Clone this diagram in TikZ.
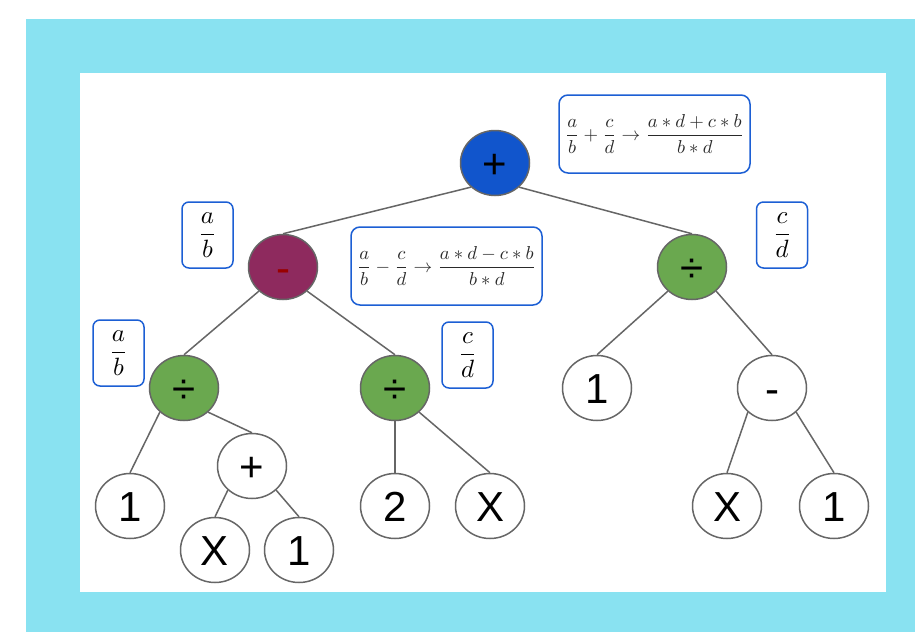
\documentclass[tikz,border=0pt]{standalone}
\usepackage{fontspec}
\setmainfont{Liberation Sans}
\usetikzlibrary{shapes.geometric}
\definecolor{bgcyan}{HTML}{89E2F1}
\definecolor{edgegray}{HTML}{666666}
\definecolor{rootblue}{HTML}{1155CC}
\definecolor{plum}{HTML}{8E2A5E}
\definecolor{darkred}{HTML}{990000}
\definecolor{opgreen}{HTML}{6AA84F}
\definecolor{boxblue}{HTML}{1C5FD4}
\definecolor{formgray}{HTML}{2A2A2A}
\begin{document}
\begin{tikzpicture}[x=1pt,y=-1pt,
  tnode/.style={ellipse, draw=edgegray, line width=1.5pt, minimum width=69pt,
    minimum height=65pt, inner sep=0pt, text height=30pt, text depth=0pt,
    font=\fontsize{42}{48}\selectfont, fill=white},
  rootop/.style={tnode, fill=rootblue},
  subop/.style={tnode, fill=plum, text=darkred},
  divop/.style={tnode, fill=opgreen},
  fracbox/.style={draw=boxblue, line width=1.5pt, rounded corners=7pt, fill=white,
    minimum width=51pt, minimum height=66pt, inner sep=0pt},
  formbox/.style={draw=boxblue, line width=1.5pt, rounded corners=9pt, fill=white,
    minimum width=191pt, minimum height=78pt, inner sep=0pt, text=formgray},
  link/.style={draw=edgegray, line width=1.5pt}]
\path[use as bounding box] (0,0) rectangle (915,632);
\fill[white] (0,0) rectangle (915,632);
\fill[bgcyan] (26,19) rectangle (915,632);
\fill[white] (80,73) rectangle (886,592);

% tree nodes
\node[rootop] (root) at (495,163) {+};
\node[subop] (sub) at (283,267) {-};
\node[divop] (divR) at (692,267) {÷};
\node[divop] (divL) at (184,388) {÷};
\node[divop] (divM) at (395,388) {÷};
\node[tnode] (oneR) at (597,388) {1};
\node[tnode] (minR) at (772,388) {-};
\node[tnode] (oneL) at (130,506) {1};
\node[tnode] (plusS) at (252,466) {+};
\node[tnode] (xS) at (215,550) {X};
\node[tnode] (oneS) at (299,550) {1};
\node[tnode] (two) at (395,506) {2};
\node[tnode] (xM) at (490,506) {X};
\node[tnode] (xR) at (727,506) {X};
\node[tnode] (oneRR) at (834,506) {1};

% connectors
\draw[link] (root.225) -- (sub.north);
\draw[link] (root.315) -- (divR.north);
\draw[link] (sub.225) -- (divL.north);
\draw[link] (sub.315) -- (divM.north);
\draw[link] (divL.225) -- (oneL.north);
\draw[link] (divL.315) -- (plusS.north);
\draw[link] (plusS.225) -- (xS.north);
\draw[link] (plusS.315) -- (oneS.north);
\draw[link] (divM.south) -- (two.north);
\draw[link] (divM.315) -- (xM.north);
\draw[link] (divR.225) -- (oneR.north);
\draw[link] (divR.315) -- (minR.north);
\draw[link] (minR.225) -- (xR.north);
\draw[link] (minR.315) -- (oneRR.north);

% annotation boxes
\node[fracbox] (ab1) at (207.5,235) {\scalebox{2.5}{$\displaystyle\frac{a}{b}$}};
\node[fracbox] (ab2) at (118.5,353) {\scalebox{2.5}{$\displaystyle\frac{a}{b}$}};
\node[fracbox] (cd1) at (782,235) {\scalebox{2.5}{$\displaystyle\frac{c}{d}$}};
\node[fracbox] (cd2) at (467.5,355) {\scalebox{2.5}{$\displaystyle\frac{c}{d}$}};
\node[formbox] (fadd) at (654.5,134) {\scalebox{1.87}{$\displaystyle\frac{a}{b}+\frac{c}{d}\to\frac{a*d+c*b}{b*d}$}};
\node[formbox] (fsub) at (446.5,266) {\scalebox{1.87}{$\displaystyle\frac{a}{b}-\frac{c}{d}\to\frac{a*d-c*b}{b*d}$}};
\end{tikzpicture}
\end{document}
